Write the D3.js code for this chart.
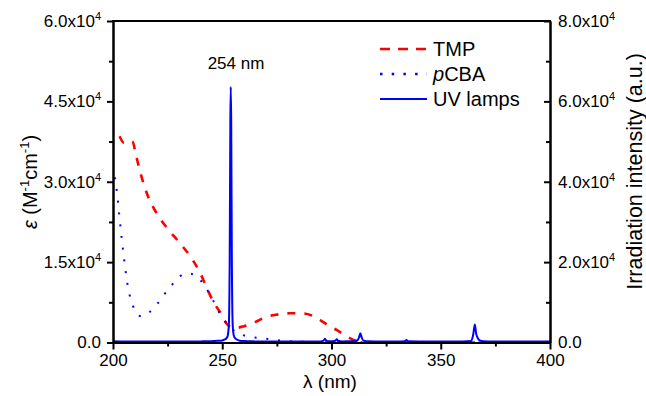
<!DOCTYPE html>
<html>
<head>
<meta charset="utf-8">
<script src="https://cdn.jsdelivr.net/npm/d3@7/dist/d3.min.js"></script>
<style>
  html, body { margin: 0; padding: 0; background: #fff; }
  svg { display: block; font-family: "Liberation Sans", Arial, sans-serif; }
</style>
</head>
<body>
<svg id="chart" width="646" height="396"></svg>
<script>
// ---- Data ----
const tmpWavelength = [203, 205, 207, 209, 210.5, 213, 216, 220, 224.5, 230.5, 236, 240, 243, 246.8, 249, 252, 254.5, 256, 260, 265, 270, 275, 281, 287, 291, 295, 299, 302.5, 306, 310, 313, 316, 400];
const tmpEpsilon    = [38500, 37300, 37700, 37450, 35000, 31000, 27300, 24100, 21500, 18600, 15700, 12900, 10100, 7000, 5700, 3500, 2800, 2700, 3050, 3800, 4750, 5200, 5450, 5430, 5050, 4150, 3100, 2300, 1400, 480, 100, 0, 0];

const pcbaWavelength = [200, 200.6, 201.7, 202.8, 203.9, 205.1, 206.5, 207.5, 209, 211.9, 213.5, 216.6, 220.3, 223.5, 226.9, 230.7, 234.8, 237.5, 239.9, 242.9, 245.5, 247.8, 250.9, 254.1, 258.6, 263.8, 268.9, 274.3, 280, 290, 300, 400];
const pcbaEpsilon    = [33000, 31500, 28400, 24100, 19700, 15500, 11200, 9060, 7000, 5000, 4900, 5640, 7190, 9000, 10700, 12400, 12900, 12500, 11700, 9970, 8100, 6190, 4190, 2640, 1530, 970, 780, 470, 250, 100, 40, 0];

const lampWavelength = [200, 205, 210, 215, 220, 225, 230, 235, 240, 245, 248, 250, 251, 252, 252.5, 253, 253.4, 253.7, 253.9, 254.1, 254.4, 254.8, 255.3, 256, 257, 258, 260, 265, 270, 275, 280, 285, 290, 295, 296.4, 297, 297.6, 299, 301.8, 302.4, 303, 305, 310, 311.8, 312.6, 313.2, 313.8, 314.6, 316, 320, 325, 330, 333.6, 334.3, 335, 340, 345, 350, 355, 360, 363.8, 364.8, 365.6, 366.2, 366.8, 367.4, 368.2, 369.5, 372, 375, 380, 385, 390, 395, 400];
const lampIntensity  = [300, 260, 250, 270, 250, 240, 260, 250, 280, 320, 420, 520, 700, 1100, 1700, 4200, 20000, 55000, 63600, 55000, 20000, 4200, 1700, 1000, 650, 450, 350, 280, 250, 260, 250, 240, 260, 280, 450, 950, 450, 300, 450, 800, 420, 280, 300, 500, 1300, 2300, 1300, 450, 300, 260, 250, 250, 300, 620, 300, 260, 250, 240, 250, 270, 350, 1800, 4500, 2200, 1300, 700, 420, 300, 260, 250, 240, 250, 260, 250, 250];

const xTicksMajor = [200, 250, 300, 350, 400];
const xTicksMinor = [225, 275, 325, 375];
const yLeftTicksMajor = [0, 15000, 30000, 45000, 60000];
const yLeftTicksMinor = [7500, 22500, 37500, 52500];
const yRightTicksMajor = [0, 20000, 40000, 60000, 80000];
const yRightTicksMinor = [10000, 30000, 50000, 70000];

const seriesNames = ["TMP", "pCBA", "UV lamps"];

// ---- Layout ----
const X0 = 113, X1 = 550, Y0 = 342.5, Y1 = 21;
const svg = d3.select("#chart");
svg.append("rect").attr("width", 646).attr("height", 396).attr("fill", "#fff");

const x = d3.scaleLinear().domain([200, 400]).range([X0, X1]);
const yL = d3.scaleLinear().domain([0, 60000]).range([Y0, Y1]);
const yR = d3.scaleLinear().domain([0, 80000]).range([Y0, Y1]);

svg.append("defs").append("clipPath").attr("id", "clip")
  .append("rect").attr("x", X0).attr("y", Y1).attr("width", X1 - X0).attr("height", Y0 - Y1);

const plot = svg.append("g").attr("clip-path", "url(#clip)");

const zip = (a, b) => a.map((v, i) => [v, b[i]]);

const lineL = d3.line().x(d => x(d[0])).y(d => yL(d[1])).curve(d3.curveMonotoneX);
const lineR = d3.line().x(d => x(d[0])).y(d => yR(d[1])).curve(d3.curveMonotoneX);

plot.append("path").datum(zip(tmpWavelength, tmpEpsilon))
  .attr("d", lineL).attr("fill", "none").attr("stroke", "#ff0000")
  .attr("stroke-width", 2.6).attr("stroke-dasharray", "8,9");

plot.append("path").datum(zip(pcbaWavelength, pcbaEpsilon))
  .attr("d", lineL).attr("fill", "none").attr("stroke", "#0000ff")
  .attr("stroke-width", 2).attr("stroke-dasharray", "2,9.8");

plot.append("path").datum(zip(lampWavelength, lampIntensity))
  .attr("d", lineR).attr("fill", "none").attr("stroke", "#0000ff")
  .attr("stroke-width", 2).attr("stroke-linejoin", "round");

// ---- Axes ----
const FS = 17;
function sciLabel(sel, v) {
  if (v === 0) { sel.text("0.0"); return; }
  const m = v / 10000;
  sel.text(m.toFixed(1) + "x10");
  sel.append("tspan").attr("dy", -7).attr("font-size", 11).text("4");
}

function styleAxis(g) {
  g.select(".domain").attr("stroke", "#000").attr("stroke-width", 2);
  g.selectAll(".tick line").attr("stroke", "#000").attr("stroke-width", 2);
  g.selectAll("text").attr("fill", "#000").attr("font-size", FS).attr("font-family", "Liberation Sans, Arial, sans-serif");
}

// bottom
const gxMinor = svg.append("g").attr("transform", `translate(0,${Y0})`)
  .call(d3.axisBottom(x).tickValues(xTicksMinor).tickSize(4).tickSizeOuter(0).tickFormat(""));
styleAxis(gxMinor);
const gx = svg.append("g").attr("transform", `translate(0,${Y0})`)
  .call(d3.axisBottom(x).tickValues(xTicksMajor).tickSize(7).tickSizeOuter(0).tickPadding(4.5).tickFormat(d3.format("d")));
styleAxis(gx);

// left
const gyMinor = svg.append("g").attr("transform", `translate(${X0},0)`)
  .call(d3.axisLeft(yL).tickValues(yLeftTicksMinor).tickSize(4).tickSizeOuter(0).tickFormat(""));
styleAxis(gyMinor);
const gy = svg.append("g").attr("transform", `translate(${X0},0)`)
  .call(d3.axisLeft(yL).tickValues(yLeftTicksMajor).tickSize(6).tickSizeOuter(0).tickPadding(6).tickFormat(""));
styleAxis(gy);
gy.selectAll(".tick text").each(function(d) { sciLabel(d3.select(this), d); });

// right (ticks inward)
const grMinor = svg.append("g").attr("transform", `translate(${X1},0)`)
  .call(d3.axisRight(yR).tickValues(yRightTicksMinor).tickSize(-4).tickSizeOuter(0).tickFormat(""));
styleAxis(grMinor);
const gr = svg.append("g").attr("transform", `translate(${X1},0)`)
  .call(d3.axisRight(yR).tickValues(yRightTicksMajor).tickSize(-6).tickSizeOuter(0).tickPadding(8).tickFormat(""));
styleAxis(gr);
gr.selectAll(".tick text").each(function(d) { sciLabel(d3.select(this), d); });

// top frame
svg.append("line").attr("x1", X0 - 1).attr("x2", X1 + 1).attr("y1", Y1).attr("y2", Y1)
  .attr("stroke", "#000").attr("stroke-width", 2);

// ---- Titles ----
svg.append("text").attr("x", 330).attr("y", 388).attr("text-anchor", "middle")
  .attr("font-size", 19).text("λ (nm)");

const lt = svg.append("text").attr("transform", "translate(37,182) rotate(-90)")
  .attr("text-anchor", "middle").attr("font-size", 20);
lt.append("tspan").attr("font-style", "italic").text("ε");
lt.append("tspan").text(" (M");
lt.append("tspan").attr("dy", -8).attr("font-size", 13).text("-1");
lt.append("tspan").attr("dy", 8).text("cm");
lt.append("tspan").attr("dy", -8).attr("font-size", 13).text("-1");
lt.append("tspan").attr("dy", 8).text(")");

svg.append("text").attr("transform", "translate(642,171.5) rotate(-90)")
  .attr("text-anchor", "middle").attr("font-size", 21.5).text("Irradiation intensity (a.u.)");

// peak annotation
svg.append("text").attr("x", 236).attr("y", 69).attr("text-anchor", "middle")
  .attr("font-size", 17).text("254 nm");

// ---- Legend ----
const legendStyles = [
  { color: "#ff0000", dash: "10,8", width: 2.6 },
  { color: "#0000ff", dash: "2.5,9.2", width: 2.5 },
  { color: "#0000ff", dash: null, width: 2 }
];
const legend = svg.append("g");
seriesNames.forEach((name, i) => {
  const yy = 49 + i * 25;
  const st = legendStyles[i];
  const ln = legend.append("line").attr("x1", 380).attr("x2", 427).attr("y1", yy).attr("y2", yy)
    .attr("stroke", st.color).attr("stroke-width", st.width);
  if (st.dash) ln.attr("stroke-dasharray", st.dash);
  const t = legend.append("text").attr("x", 433).attr("y", yy + 7.3).attr("font-size", 20);
  if (name === "pCBA") {
    t.append("tspan").attr("font-style", "italic").text("p");
    t.append("tspan").text("CBA");
  } else {
    t.text(name);
  }
});
</script>
</body>
</html>
